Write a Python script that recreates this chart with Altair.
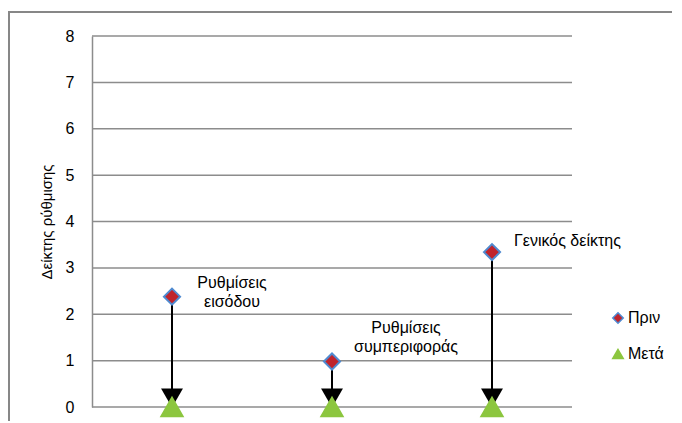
import altair as alt
import pandas as pd

categories = ["Ρυθμίσεις εισόδου", "Ρυθμίσεις συμπεριφοράς", "Γενικός δείκτης"]
before = [2.38, 0.98, 3.34]
after = [0, 0, 0]
label_text = ["Ρυθμίσεις\nεισόδου", "Ρυθμίσεις\nσυμπεριφοράς", "Γενικός δείκτης"]
series_names = ["Πριν", "Μετά"]
y_ticks = [0, 1, 2, 3, 4, 5, 6, 7, 8]

FONT = "Liberation Sans, Arial, sans-serif"

wide = pd.DataFrame({"cat": categories, "before": before, "after": after, "label": label_text})
long = pd.DataFrame(
    {
        "cat": categories * 2,
        "series": [series_names[0]] * 3 + [series_names[1]] * 3,
        "value": before + after,
    }
)

W, H = 480, 371

xenc = alt.X("cat:N", sort=categories, axis=None, scale=alt.Scale(type="point", padding=0.5))
yscale = alt.Scale(domain=[0, 8], nice=False)

base = alt.Chart(wide)

grid = alt.Chart(pd.DataFrame({"t": y_ticks})).mark_rule(color="#8c8c8c", strokeWidth=1.5).encode(
    y=alt.Y("t:Q", scale=yscale, axis=alt.Axis(
        title="Δείκτης ρύθμισης", values=y_ticks, ticks=False, grid=False,
        domainColor="#8c8c8c", domainWidth=1.5,
        labelFont=FONT, labelFontSize=16, labelColor="#000", labelPadding=18,
        titleFont=FONT, titleFontSize=15, titleFontWeight="normal", titleColor="#000",
        titlePadding=11,
    ))
)

frame = alt.Chart(pd.DataFrame({"a": [0]})).mark_rect(
    fillOpacity=0, stroke="#878787", strokeWidth=2
).encode(
    x=alt.value(-83), x2=alt.value(W + 120), y=alt.value(-24), y2=alt.value(H + 60)
)

stems = base.mark_rule(color="#000", strokeWidth=2).encode(
    x=xenc, y=alt.Y("before:Q", scale=yscale), y2="after:Q"
)
heads = base.mark_point(shape="triangle-down", filled=True, color="#000", size=480, opacity=1, yOffset=-9).encode(
    x=xenc, y=alt.Y("after:Q", scale=yscale)
)

legend = alt.Legend(title=None, orient="none", legendX=518, legendY=274,
                    labelFont=FONT, labelFontSize=16, labelColor="#000",
                    symbolSize=110, rowPadding=19, padding=0, labelOffset=2)

def series_layer(name, size):
    return alt.Chart(long).transform_filter(alt.datum.series == name).mark_point(
        filled=True, opacity=1, strokeWidth=2, size=size
    ).encode(
        x=xenc,
        y=alt.Y("value:Q", scale=yscale),
        shape=alt.Shape("series:N", sort=series_names,
                        scale=alt.Scale(domain=series_names, range=["diamond", "triangle-up"]),
                        legend=legend),
        fill=alt.Fill("series:N", sort=series_names,
                      scale=alt.Scale(domain=series_names, range=["#C0242C", "#8CC63F"]),
                      legend=legend),
        stroke=alt.Stroke("series:N", sort=series_names,
                          scale=alt.Scale(domain=series_names, range=["#4F8AD0", "#8CC63F"]),
                          legend=legend),
    )

pts_after = series_layer(series_names[1], 450)
pts_before = series_layer(series_names[0], 260)

def lbl(i, dx, dy, align):
    return base.transform_filter(alt.datum.cat == categories[i]).mark_text(
        font=FONT, fontSize=16, color="#000", align=align, baseline="middle",
        lineBreak="\n", lineHeight=19, dx=dx, dy=dy,
    ).encode(x=xenc, y=alt.Y("before:Q", scale=yscale), text="label:N")

labels = lbl(0, 60, -14, "center") + lbl(1, 74, -34, "center") + lbl(2, 22, -11, "left")

chart = alt.layer(frame, grid, stems, heads, pts_after, pts_before, labels).properties(
    width=W, height=H,
    autosize=alt.AutoSizeParams(type="none"),
    padding={"left": 84, "top": 28, "right": 100, "bottom": 14},
).configure_view(stroke=None)

chart.save("out.html", embed_options={"renderer": "svg", "actions": False})
